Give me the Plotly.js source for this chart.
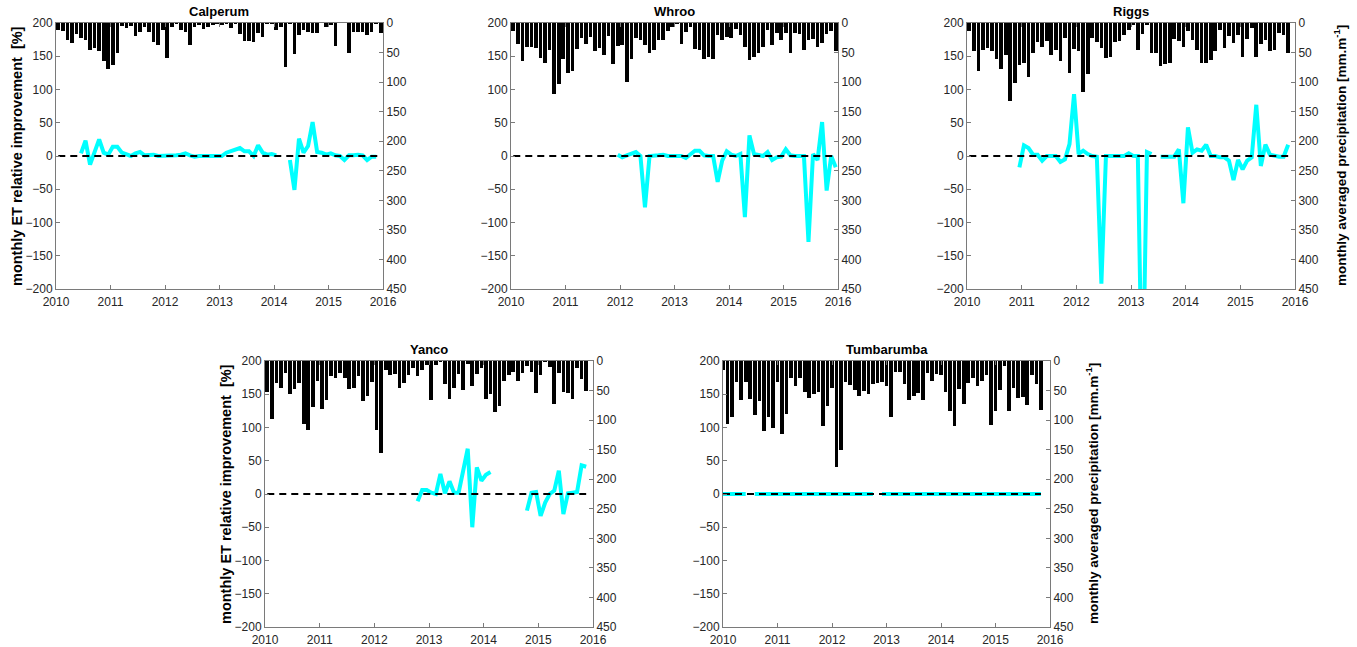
<!DOCTYPE html>
<html><head><meta charset="utf-8">
<script src="https://cdn.plot.ly/plotly-3.0.1.min.js"></script>
<style>html,body{margin:0;padding:0;background:#fff}#chart{width:1357px;height:647px}</style>
</head><body><div id="chart"></div>
<script>
// ---------------- DATA ----------------
const siteNames = ['Calperum', 'Whroo', 'Riggs', 'Yanco', 'Tumbarumba'];

// monthly averaged precipitation [mm.m-1], one value per month from Jan 2010
const calperumRain = [12,13,29,34,19,26,28,46,43,48, 65,77,71,51,5,9,5,22,16,7, 16,32,37,12,60,7,2,11,16,37, 6,3,10,6,3,2,3,2,9,1, 19,30,30,32,17,23,1,2,12,6, 75,2,53,20,12,15,17,17,0,6, 3,39,0,0,50,15,15,15,20,16, 2,17];
const whrooRain = [14,36,65,41,41,43,59,68,46,120, 103,61,84,81,44,25,36,24,47,42, 54,22,70,39,38,100,61,25,29,38, 51,46,29,28,14,6,1,36,15,6, 44,46,61,57,61,20,29,23,25,10, 21,40,63,57,50,41,12,37,17,29, 17,51,17,19,45,28,27,41,34,19, 14,47];
const riggsRain = [14,48,82,45,43,47,61,77,54,132, 101,71,67,91,50,32,40,30,54,46, 65,26,84,44,47,117,86,25,32,42, 60,57,32,30,20,12,3,46,19,3, 51,51,73,70,67,27,30,41,14,29, 45,67,67,63,47,12,43,22,34,20, 57,27,9,58,36,29,47,46,17,20, 51];
const yancoRain = [52,98,37,45,21,55,48,38,107,117, 77,33,81,66,25,28,20,28,48,45, 25,67,59,35,116,155,15,23,22,46, 38,23,12,26,15,6,66,7,1,39, 65,46,22,49,5,43,22,12,64,55, 86,76,34,24,18,33,21,8,18,54, 24,1,10,72,20,52,54,65,12,31, 50];
const tumbarumbaRain = [15,107,94,36,66,36,65,92,68,118, 94,114,35,123,90,28,42,28,52,63, 56,52,110,76,46,179,151,36,41,49, 60,51,56,39,38,36,42,95,18,18, 39,66,60,54,66,21,34,22,24,52, 85,110,47,73,38,29,42,33,23,108, 84,49,8,85,45,63,61,74,24,39, 83];

// monthly ET relative improvement [%]; first value is for month index etStart (0 = Jan 2010); null = no data
const calperumETStart = 5;
const calperumET = [4,23,-13,7,25,5,2,14,14,5, 2,0,4,6,1,2,2,0,0,0, 1,1,2,4,1,-1,0,0,0,0, 0,0,5,7,10,12,7,7,0,16, 5,2,3,1,null,null, -6,-51,26,5,15,51,6,5,2,4, 1,0,-6,1,1,2,1,-6,-1,-1];
const whrooETStart = 23;
const whrooET = [2,-2,1,4,6,0,-77,0,0,1, 2,0,0,0,0,-3,2,8,8,1, 0,0,-39,-7,7,2,0,3,-92,31, 3,1,0,6,-6,-2,-1,10,1,0, 0,0,-129,3,-6,51,-52,0,-17];
const riggsETStart = 11;
const riggsET = [-17,16,12,2,2,-7,0,0,0,-9, -5,18,93,3,8,3,0,-1,-192,0, 0,0,-1,0,4,0,0,-390,6,3, null, -1,-1,-1,-1,10,-71,43,5,10, 8,17,0,0,-2,-2,-7,-36,-6,-20, -7,-2,77,-15,17,2,0,-1,-1,17];
const yancoETStart = 33;
const yancoET = [-11,6,6,2,0,30,1,19,2,2, 35,68,-50,40,20,29,33, null,null,null,null,null,null,null, -25,2,3,-33,-13,0,5,35,-30,1, 2,3,43,41];
const tumbarumbaETStart = 0;
const tumbarumbaET = [0,0,0,0,0,0,null, 0,0,0,0,0,0,0,0,0,0, 0,0,0,0,0,0,0,0,0,0, 0,0,0,0,0,0,0, null, 0,0,0,0,0,0,0,0,0,0, 0,0,0,0,0,0,0,0,0,0, 0,0,0,0,0,0,0,0,0,0, 0,0,0,0,0,0];

// position of each sample inside its month (0 = first day, 0.5 = mid-month)
const sampleOffset = [0.5, 0.5, 0.5, 0.5, 0];

const yearTicks = [2010, 2011, 2012, 2013, 2014, 2015, 2016];
const etTicks = [-200, -150, -100, -50, 0, 50, 100, 150, 200];
const rainTicks = [0, 50, 100, 150, 200, 250, 300, 350, 400, 450];

const rainSeries = [calperumRain, whrooRain, riggsRain, yancoRain, tumbarumbaRain];
const etSeries = [calperumET, whrooET, riggsET, yancoET, tumbarumbaET];
const etStarts = [calperumETStart, whrooETStart, riggsETStart, yancoETStart, tumbarumbaETStart];

// ---------------- LAYOUT ----------------
const W = 1357, H = 647;
// plot boxes in pixels [left, top, right, bottom]
const boxes = [[56,23,383,289],[511,23,838,289],[967,23,1295,289],[265,361,593,627],[723,361,1050,627]];
const FONT = '"Liberation Sans", Arial, sans-serif';
const axisCol = '#7a7a7a';
const tickFont = {size: 12, color: '#262626', family: FONT};
const monthToYear = (m, off) => 2010 + (m + off) / 12;

const traces = [];
const layout = {
  width: W, height: H, margin: {l:0, r:0, t:0, b:0},
  paper_bgcolor: '#fff', plot_bgcolor: '#fff',
  showlegend: false, bargap: 0,
  font: {family: FONT, size: 12, color: '#262626'},
  annotations: []
};

siteNames.forEach((name, k) => {
  const n = k + 1;
  const xa = n === 1 ? 'x' : 'x' + n;
  const yRain = 'y' + (2 * n - 1 === 1 ? '' : (2 * n - 1));
  const yET = 'y' + (2 * n);
  const [l, t, r, b] = boxes[k];
  const off = sampleOffset[k];
  const rain = rainSeries[k];
  const rainX = rain.map((_, i) => monthToYear(i, off));
  const et = etSeries[k];
  const etX = et.map((_, i) => monthToYear(etStarts[k] + i, off));

  traces.push({type: 'bar', x: rainX, y: rain, xaxis: xa, yaxis: yRain,
    width: 0.8 / 12, marker: {color: '#000', line: {width: 0}}, hoverinfo: 'x+y'});
  traces.push({type: 'scatter', mode: 'lines', x: etX, y: et, xaxis: xa, yaxis: yET,
    line: {color: '#00ffff', width: 4}, connectgaps: false});
  traces.push({type: 'scatter', mode: 'lines', x: [rainX[0], rainX[rainX.length - 1]], y: [0, 0],
    xaxis: xa, yaxis: yET, line: {color: '#000', width: 2, dash: '7px,5px'}, hoverinfo: 'skip'});

  const dom = [l / W, r / W];
  const ydom = [1 - b / H, 1 - t / H];
  layout['xaxis' + (n === 1 ? '' : n)] = {
    domain: dom, anchor: yRain, range: [2010, 2016], tickvals: yearTicks,
    ticks: 'inside', ticklen: 4, tickcolor: axisCol, showline: true, linecolor: axisCol, linewidth: 1,
    mirror: 'ticks', showgrid: false, zeroline: false, automargin: false, tickfont: tickFont,
    ticklabelstandoff: 2
  };
  const ra = 2 * n - 1;
  layout['yaxis' + (ra === 1 ? '' : ra)] = {
    domain: ydom, anchor: xa, side: 'right', range: [450, 0], tickvals: rainTicks,
    ticks: 'inside', ticklen: 4, tickcolor: axisCol, showline: true, linecolor: axisCol, linewidth: 1,
    showgrid: false, zeroline: false, automargin: false, tickfont: tickFont
  };
  layout['yaxis' + (2 * n)] = {
    overlaying: yRain, anchor: xa, side: 'left', range: [-200, 200], tickvals: etTicks,
    ticks: 'inside', ticklen: 4, tickcolor: axisCol, showline: true, linecolor: axisCol, linewidth: 1,
    showgrid: false, zeroline: false, automargin: false, tickfont: tickFont
  };

  layout.annotations.push({text: '<b>' + name + '</b>', xref: 'paper', yref: 'paper',
    x: (l + r) / 2 / W, y: 1 - (t - 2) / H, xanchor: 'center', yanchor: 'bottom',
    showarrow: false, font: {size: 13, color: '#000', family: FONT}});
});

// axis titles
const leftTitle = '<b>monthly ET relative improvement&nbsp; [%]</b>';
const rightTitle = '<b>monthly averaged precipitation [mm.m<sup>-1</sup>]</b>';
[[0, leftTitle, 17, 14.5], [3, leftTitle, 226, 14.5], [2, rightTitle, 1340, 13.5], [4, rightTitle, 1092, 13.5]].forEach(([k, txt, px, fs]) => {
  const [l, t, r, b] = boxes[k];
  layout.annotations.push({text: txt, xref: 'paper', yref: 'paper', x: px / W, y: 1 - (t + b) / 2 / H,
    xanchor: 'center', yanchor: 'middle', textangle: -90, showarrow: false,
    font: {size: fs, color: '#000', family: FONT}});
});

Plotly.newPlot('chart', traces, layout, {displayModeBar: false, staticPlot: true});
</script>
</body></html>
